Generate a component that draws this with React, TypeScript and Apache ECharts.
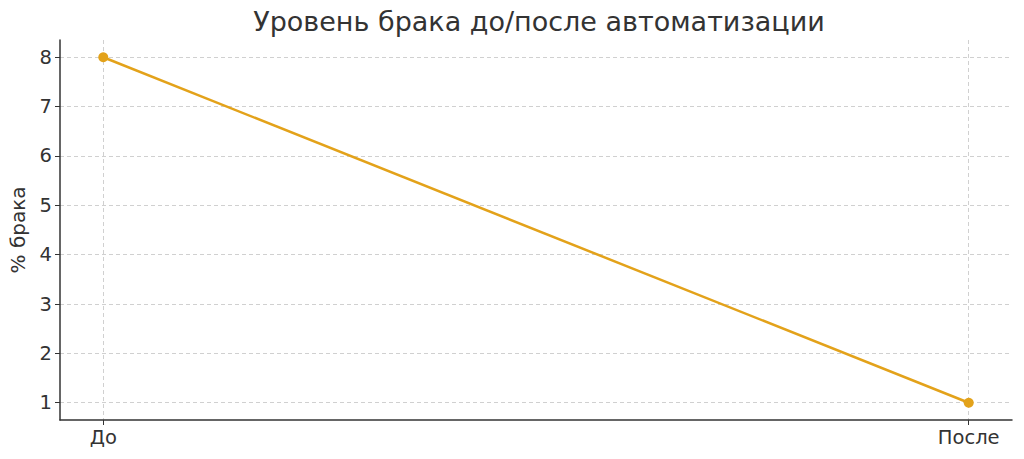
import { useEffect, useRef } from "react";
import * as echarts from "echarts";

const categories = ["До", "После"];
const defectRate = [8, 1];
const yTicks = [1, 2, 3, 4, 5, 6, 7, 8];

export default function App() {
  const chartRef = useRef<HTMLDivElement>(null);

  useEffect(() => {
    if (!chartRef.current) return;
    const chart = echarts.init(chartRef.current, null, { renderer: "svg" });
    const font = "'DejaVu Sans', sans-serif";
    const gridLine = { show: true, lineStyle: { color: "#d0d0d0", type: [4, 3], width: 1 } };

    chart.setOption({
      animation: false,
      textStyle: { fontFamily: font },
      title: {
        text: "Уровень брака до/после автоматизации",
        left: 534,
        top: 3,
        textAlign: "center",
        textStyle: { fontSize: 27, fontWeight: "normal", color: "#333", fontFamily: font },
      },
      grid: { left: 56, right: 12, top: 40, bottom: 39, containLabel: false },
      xAxis: {
        type: "value",
        min: -0.05,
        max: 1.05,
        axisLine: { show: true, onZero: false, lineStyle: { color: "#333", width: 1.5 } },
        axisTick: { show: true, customValues: [0, 1], length: 5, lineStyle: { color: "#333" } },
        axisLabel: {
          customValues: [0, 1],
          formatter: (v: number) => categories[Math.round(v)] ?? "",
          fontSize: 19.5,
          color: "#333",
          margin: 7,
        },
        splitLine: gridLine,
      },
      yAxis: {
        type: "value",
        min: 0.65,
        max: 8.35,
        name: "% брака",
        nameLocation: "middle",
        nameGap: 32,
        nameTextStyle: { fontSize: 20, color: "#333" },
        axisLine: { show: true, onZero: false, lineStyle: { color: "#333", width: 1.5 } },
        axisTick: { show: true, customValues: yTicks, length: 5, lineStyle: { color: "#333" } },
        axisLabel: { customValues: yTicks, fontSize: 19.5, color: "#333", margin: 8 },
        splitLine: gridLine,
      },
      series: [
        {
          type: "line",
          data: defectRate.map((v, i) => [i, v]),
          color: "#E3A21A",
          lineStyle: { width: 2.5 },
          symbol: "circle",
          symbolSize: 10,
        },
      ],
    });
    return () => chart.dispose();
  }, []);

  return (
    <div
      ref={chartRef}
      style={{ position: "fixed", left: 0, top: 0, width: 1024, height: 459, background: "#fff" }}
    />
  );
}
